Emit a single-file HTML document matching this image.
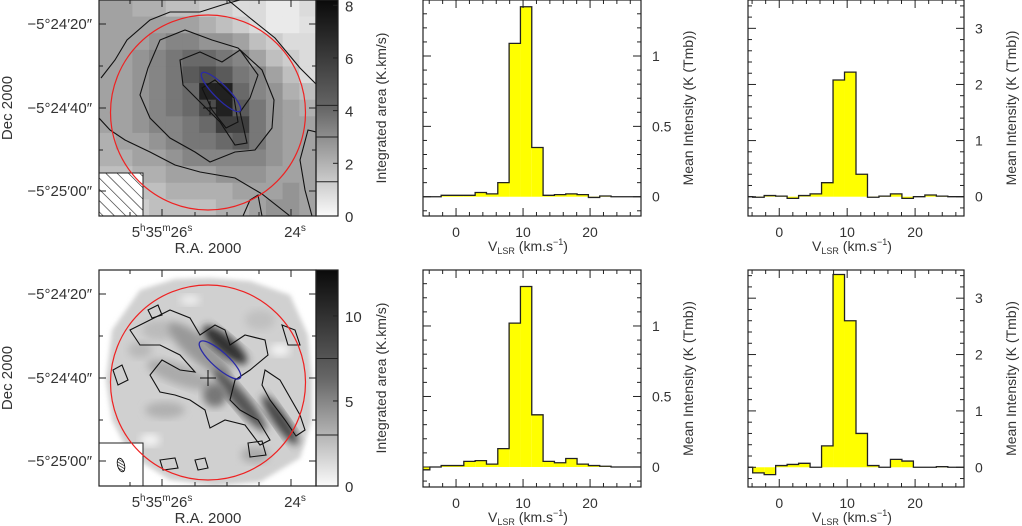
<!DOCTYPE html>
<html><head><meta charset="utf-8">
<style>
html,body{margin:0;padding:0;background:#fff;}
#fig{position:relative;width:1022px;height:526px;overflow:hidden;}
svg text{font-family:"Liberation Sans",sans-serif;fill:#333;}
</style></head>
<body>
<div id="fig">
<svg id="svg" width="1022" height="526" viewBox="0 0 1022 526" xmlns="http://www.w3.org/2000/svg">
<defs>
<linearGradient id="cbar" x1="0" y1="0" x2="0" y2="1">
<stop offset="0" stop-color="#0a0a0a"/><stop offset="0.5" stop-color="#666"/><stop offset="1" stop-color="#fafafa"/>
</linearGradient>
<pattern id="hatch" width="8" height="8" patternUnits="userSpaceOnUse" patternTransform="rotate(-45)">
<rect width="8" height="8" fill="#fff"/><line x1="0" y1="0" x2="0" y2="8" stroke="#222" stroke-width="1.2"/>
</pattern>
<pattern id="hatch2" width="2.5" height="2.5" patternUnits="userSpaceOnUse" patternTransform="rotate(-45)">
<rect width="2.5" height="2.5" fill="#fff"/><line x1="0" y1="0" x2="0" y2="2.5" stroke="#000" stroke-width="1.2"/>
</pattern>
<filter id="blur" x="-20%" y="-20%" width="140%" height="140%"><feGaussianBlur stdDeviation="4"/></filter>
<filter id="blur2"><feGaussianBlur stdDeviation="2.5"/></filter>
<clipPath id="clipTL"><rect x="99" y="0" width="217" height="216"/></clipPath>
<clipPath id="clipBL"><rect x="99" y="270" width="217" height="216"/></clipPath>
</defs>
<g id="layer"></g>
</svg>
</div>
<script>
// ---------- spectra data ----------
const binStart = -5.6;
const binWidth = 1.69;
const specTopMid = [0,0,0.01,0.01,0.01,0.03,0.02,0.1,1.09,1.35,0.35,0.01,0.015,0.02,0.015,-0.005,0.005,0,0,0];
const specTopRight = [0,-0.01,0.02,0.01,-0.03,0.02,0.05,0.25,2.08,2.22,0.4,-0.01,0.01,0.05,-0.03,0,0.03,0.01,0,0];
const specBotMid = [-0.02,0,0.01,0.01,0.04,0.045,0.02,0.13,1.02,1.28,0.37,0.04,0.03,0.06,0.02,0.01,0.005,0,0,0];
const specBotRight = [0,-0.1,-0.13,0.03,0.05,0.07,0,0.38,3.42,2.6,0.6,0.03,0,0.14,0.11,0,0,0.01,0,0];
const xTickLabels = [0,10,20];
const yTicksLow = [0,0.5,1];
const yTicksHigh = [0,1,2,3];
// ---------- image data (13x13 grid, K.km/s) ----------
const mapTL = [
[3,3,2.5,2.5,2,2,1.5,1.5,1,1,0.5,0.5,1],
[3,3,3,3,3,3,2.5,2,1.5,1,0.5,0.5,0.8],
[3,3,3,3.5,4,4,3.5,3.5,3,2,1.5,1,1],
[3,3,3.5,4,4.5,5,5,4.5,4,3,2,1.5,1],
[3,3,3.5,4,4.5,5.5,6,5.5,4.5,4,3,2,1],
[3,3,3.5,4,4.5,5,7.5,7.5,5,4,3.5,2.5,2],
[3,3,3.5,4,4.5,5,6,7.5,5.5,4.5,3.5,3,2.5],
[3,3,3.5,4,4,4.5,5,6.5,6.5,4.5,3.5,3,3],
[2.5,3,3,3.5,4,4.5,4.5,5,5.5,4.5,3.5,3,3],
[2.5,2.5,3,3,3.5,4,4,4,4,4,3.5,3,3],
[2,2,2.5,2.5,3,3,3,3.5,3.5,3.5,3,3,3],
[1.5,1.5,2,2,2.5,2.5,2.5,2.5,3,3,3,3.5,3],
[1.5,1.5,1.5,2,2,2,2,2.5,2.5,3,3.5,3.5,3]
];
const cbarTicksTL = [0,2,4,6,8];
const cbarTicksBL = [0,5,10];

const NS='http://www.w3.org/2000/svg';
const layer=document.getElementById('layer');
function mk(tag,attrs,parent){const e=document.createElementNS(NS,tag);for(const k in attrs)e.setAttribute(k,attrs[k]);(parent||layer).appendChild(e);return e;}
function txt(x,y,s,size,anchor,parent,rot){const t=mk('text',{x:x,y:y,'font-size':size,'text-anchor':anchor||'middle'},parent);if(rot)t.setAttribute('transform','rotate('+rot+' '+x+' '+y+')');t.textContent=s;return t;}

function spectrum(name,fx0,fy0,fx1,fy1,xmin,xmax,ymin,ymax,vals,yticks,ymajor,yminor){
  const g=mk('g',{});
  
  
  const sx=v=>fx0+(v-xmin)/(xmax-xmin)*(fx1-fx0);
  const sy=v=>fy1-(v-ymin)/(ymax-ymin)*(fy1-fy0);
  const y0=sy(0);
  let line='';
  vals.forEach((v,i)=>{
    let a=Math.max(binStart+i*binWidth,xmin), b=Math.min(binStart+(i+1)*binWidth,xmax);
    if(b<=a) return;
    const bar=mk('rect',{x:sx(a),y:Math.min(sy(v),y0),width:sx(b)-sx(a),height:Math.abs(sy(v)-y0),fill:'#ffff00'},g);
    
    
    line+=(line?'L':'M')+sx(a)+','+sy(v)+'L'+sx(b)+','+sy(v);
  });
  mk('path',{d:line,fill:'none',stroke:'#222','stroke-width':1.3},g);
  const fr=mk('rect',{x:fx0,y:fy0,width:fx1-fx0,height:fy1-fy0,fill:'none',stroke:'#222','stroke-width':1.2},g);
  
  
  for(let v=-4;v<=xmax;v+=2){const x=sx(v);if(x<=fx0||x>=fx1)continue;const L=(v%10===0)?8:4;
    mk('line',{x1:x,y1:fy1,x2:x,y2:fy1-L,stroke:'#222','stroke-width':1},g);
    mk('line',{x1:x,y1:fy0,x2:x,y2:fy0+L,stroke:'#222','stroke-width':1},g);}
  const n0=Math.ceil(ymin/yminor-1e-6), n1=Math.floor(ymax/yminor+1e-6);
  for(let k=n0;k<=n1;k++){const v=k*yminor;const y=sy(v);const maj=Math.abs(v/ymajor-Math.round(v/ymajor))<1e-6;const L=maj?8:4;
    mk('line',{x1:fx0,y1:y,x2:fx0+L,y2:y,stroke:'#222','stroke-width':1},g);
    mk('line',{x1:fx1,y1:y,x2:fx1-L,y2:y,stroke:'#222','stroke-width':1},g);}
  xTickLabels.forEach(v=>{const t=txt(sx(v),fy1+21,String(v),14,'middle',g);});
  yticks.forEach(v=>{const t=txt(fx1+11,sy(v)+5,String(v),14,'start',g);});
  const xl=mk('text',{x:(fx0+fx1)/2-4,y:fy1+35,'font-size':14,'text-anchor':'middle'},g);
  
  
  xl.innerHTML='V<tspan font-size="9" dy="3">LSR</tspan><tspan dy="-3"> (km.s</tspan><tspan font-size="9" dy="-6">−1</tspan><tspan dy="6">)</tspan>';
  const yl=txt(fx1+52,(fy0+fy1)/2,'Mean Intensity (K (Tmb))',14,'middle',g,-90);
  
  
}
spectrum('spectrum-top-middle',423,0,641,216,-4.93,27.6,-0.137,1.398,specTopMid,yTicksLow,0.5,0.1);
spectrum('spectrum-top-right',748,0,964,216,-4.6,27.2,-0.344,3.505,specTopRight,yTicksHigh,1,0.2);
spectrum('spectrum-bottom-middle',423,270,641,487,-4.93,27.6,-0.142,1.397,specBotMid,yTicksLow,0.5,0.1);
spectrum('spectrum-bottom-right',748,270,964,487,-4.6,27.2,-0.35,3.5,specBotRight,yTicksHigh,1,0.2);

function imageAxes(name,fy0,cbTicks,cbMax,contLevels){
  const g=mk('g',{});
  
  
  const fy1=fy0+216;
  const cb=mk('rect',{x:316,y:fy0,width:22,height:216,fill:'url(#cbar)',stroke:'#222','stroke-width':1.2},g);
  
  
  contLevels.forEach(v=>{const y=fy1-v/cbMax*216;mk('line',{x1:316,y1:y,x2:338,y2:y,stroke:'#222','stroke-width':1},g);});
  cbTicks.forEach(v=>{const y=fy1-v/cbMax*216;
    mk('line',{x1:338,y1:y,x2:333,y2:y,stroke:'#222','stroke-width':1},g);
    const t=txt(345,y+6,String(v),15,'start',g);});
  const cl=txt(386,fy0+108,'Integrated area (K.km/s)',14,'middle',g,-90);
  
  
  mk('rect',{x:99,y:fy0,width:217,height:216,fill:'none',stroke:'#222','stroke-width':1.2},g);
  const decY=[fy0+24,fy0+108,fy0+191];
  const decL=['−5°24\u203220\u2033','−5°24\u203240\u2033','−5°25\u203200\u2033'];
  decY.forEach((y,i)=>{mk('line',{x1:99,y1:y,x2:106,y2:y,stroke:'#222'},g);mk('line',{x1:316,y1:y,x2:309,y2:y,stroke:'#222'},g);
    const t=txt(92,y+5,decL[i],15,'end',g);});
  [fy0+66,fy0+150].forEach(y=>{mk('line',{x1:99,y1:y,x2:103,y2:y,stroke:'#222'},g);mk('line',{x1:316,y1:y,x2:312,y2:y,stroke:'#222'},g);});
  [162,227,291].forEach((x,i)=>{const L=(i===1)?4:7;mk('line',{x1:x,y1:fy1,x2:x,y2:fy1-L,stroke:'#222'},g);mk('line',{x1:x,y1:fy0,x2:x,y2:fy0+L,stroke:'#222'},g);});
  [130,195,259].forEach(x=>{mk('line',{x1:x,y1:fy1,x2:x,y2:fy1-4,stroke:'#222'},g);mk('line',{x1:x,y1:fy0,x2:x,y2:fy0+4,stroke:'#222'},g);});
  const ra=mk('text',{x:162,y:fy1+21,'font-size':15,'text-anchor':'middle'},g);
  
  
  ra.innerHTML='5<tspan font-size="10" dy="-6">h</tspan><tspan dy="6">35</tspan><tspan font-size="10" dy="-6">m</tspan><tspan dy="6">26</tspan><tspan font-size="10" dy="-6">s</tspan>';
  const ra2=mk('text',{x:295,y:fy1+21,'font-size':15,'text-anchor':'middle'},g);
  
  
  ra2.innerHTML='24<tspan font-size="10" dy="-6">s</tspan>';
  const xt=txt(208,fy1+37,'R.A. 2000',15,'middle',g);
  
  
  const yt=txt(12,fy0+108,'Dec 2000',15,'middle',g,-90);
  
  
}

const gTL=mk('g',{'clip-path':'url(#clipTL)'});


const cw=217/13, ch=216/13;
mapTL.forEach((row,r)=>row.forEach((v,c)=>{
  const gv=Math.round(248-v/8.2*235);
  const cell=mk('rect',{x:99+c*cw,y:r*ch,width:cw+0.6,height:ch+0.6,fill:'rgb('+gv+','+gv+','+gv+')'},gTL);
  
  
}));
const contoursTL=[
'M101,78 L115,60 L127,40 L150,20 L170,12 L200,12 L225,4 L240,0',
'M228,0 L250,18 L275,38 L300,68 L316,84',
'M99,118 L110,130 L125,140 L150,152 L175,165 L200,172 L235,178 L262,194 L290,216',
'M316,132 L308,130 L300,160 L305,190 L312,216',
'M243,216 L250,200 L258,195 L262,216',
'M160,40 L185,30 L212,40 L238,48 L262,70 L274,100 L272,128 L255,150 L235,152 L210,162 L195,152 L170,138 L150,118 L140,95 L148,68 Z',
'M180,60 L200,52 L222,62 L240,50 L258,75 L250,98 L240,112 L247,143 L235,145 L220,122 L200,102 L183,85 Z',
'M202,88 L215,80 L234,98 L238,122 L226,128 L212,110 Z'
];
contoursTL.forEach(d=>{const p=mk('path',{d:d,fill:'none',stroke:'#111','stroke-width':1.1},gTL);});
const hb=mk('rect',{x:99,y:173,width:44,height:43,fill:'url(#hatch)',stroke:'#222','stroke-width':1},gTL);


mk('path',{d:'M203,108 L217,108 M210,101 L210,115',stroke:'#111','stroke-width':1},gTL);
const rc1=mk('circle',{cx:208,cy:112.5,r:97.5,fill:'none',stroke:'#e22','stroke-width':1.2},gTL);


const be1=mk('ellipse',{cx:221,cy:92,rx:27,ry:7,transform:'rotate(45 221 92)',fill:'none',stroke:'#2a2aa8','stroke-width':1.3},gTL);


imageAxes('map-top-left',0,cbarTicksTL,8.2,[1.3,3,4.2]);

const gBL=mk('g',{'clip-path':'url(#clipBL)'});


mk('path',{d:'M140,290 L175,279 L210,278 L250,281 L290,295 L308,335 L312,380 L312,420 L300,458 L260,482 L215,486 L170,480 L130,455 L112,420 L106,380 L112,330 Z',fill:'#d0d0d0',filter:'url(#blur2)'},gBL);
const blobs=[[160,330,18,10,'#bbb'],[260,320,15,10,'#c0c0c0'],[200,350,40,12,'#999',40],[225,345,28,9,'#333',40],[240,400,40,8,'#555',50],[280,420,30,7,'#444',55],[180,375,35,10,'#aaa',20],[215,395,12,12,'#777'],[165,410,20,8,'#b0b0b0'],[255,455,14,8,'#aaa'],[140,350,12,8,'#b8b8b8'],[150,440,10,6,'#f4f4f4'],[280,350,10,6,'#f4f4f4'],[190,300,10,5,'#eee']];
blobs.forEach(b=>{mk('ellipse',{cx:b[0],cy:b[1],rx:b[2],ry:b[3],fill:b[4],filter:'url(#blur)',transform:'rotate('+(b[5]||0)+' '+b[0]+' '+b[1]+')'},gBL);});
const contoursBL=[
'M130,330 L150,320 L170,310 L190,318 L200,335 L215,325 L225,330 L230,345 L245,335 L265,340 L268,355 L250,370 L235,380 L230,400 L240,410 L258,420 L270,440 L260,445 L245,425 L225,420 L210,428 L205,410 L190,400 L175,395 L160,392 L150,375 L162,360 L180,370 L195,372 L180,355 L160,345 L140,345 Z',
'M265,370 L280,380 L300,415 L305,430 L296,436 L285,420 L270,400 L262,385 Z',
'M148,310 L158,305 L162,315 L152,318 Z',
'M113,370 L122,365 L128,380 L118,385 Z',
'M282,325 L295,330 L300,345 L288,345 Z',
'M160,460 L175,458 L178,468 L163,470 Z',
'M195,460 L205,458 L208,468 L198,470 Z',
'M248,443 L262,441 L266,455 L250,457 Z'
];
contoursBL.forEach(d=>{const p=mk('path',{d:d,fill:'none',stroke:'#111','stroke-width':1.1},gBL);});
const bb=mk('rect',{x:99,y:443,width:44,height:43,fill:'#fff',stroke:'#222','stroke-width':1},gBL);


mk('ellipse',{cx:121,cy:465,rx:3.5,ry:7,transform:'rotate(-15 121 465)',fill:'url(#hatch2)',stroke:'#000','stroke-width':0.8},gBL);
mk('path',{d:'M200,378 L216,378 M208,370 L208,386',stroke:'#111','stroke-width':1},gBL);
const rc2=mk('circle',{cx:208,cy:382.5,r:97.5,fill:'none',stroke:'#e22','stroke-width':1.2},gBL);


const be2=mk('ellipse',{cx:220,cy:360,rx:27,ry:8,transform:'rotate(42 220 360)',fill:'none',stroke:'#2a2aa8','stroke-width':1.3},gBL);


imageAxes('map-bottom-left',270,cbarTicksBL,12.7,[3,7.5]);
</script>
</body></html>
